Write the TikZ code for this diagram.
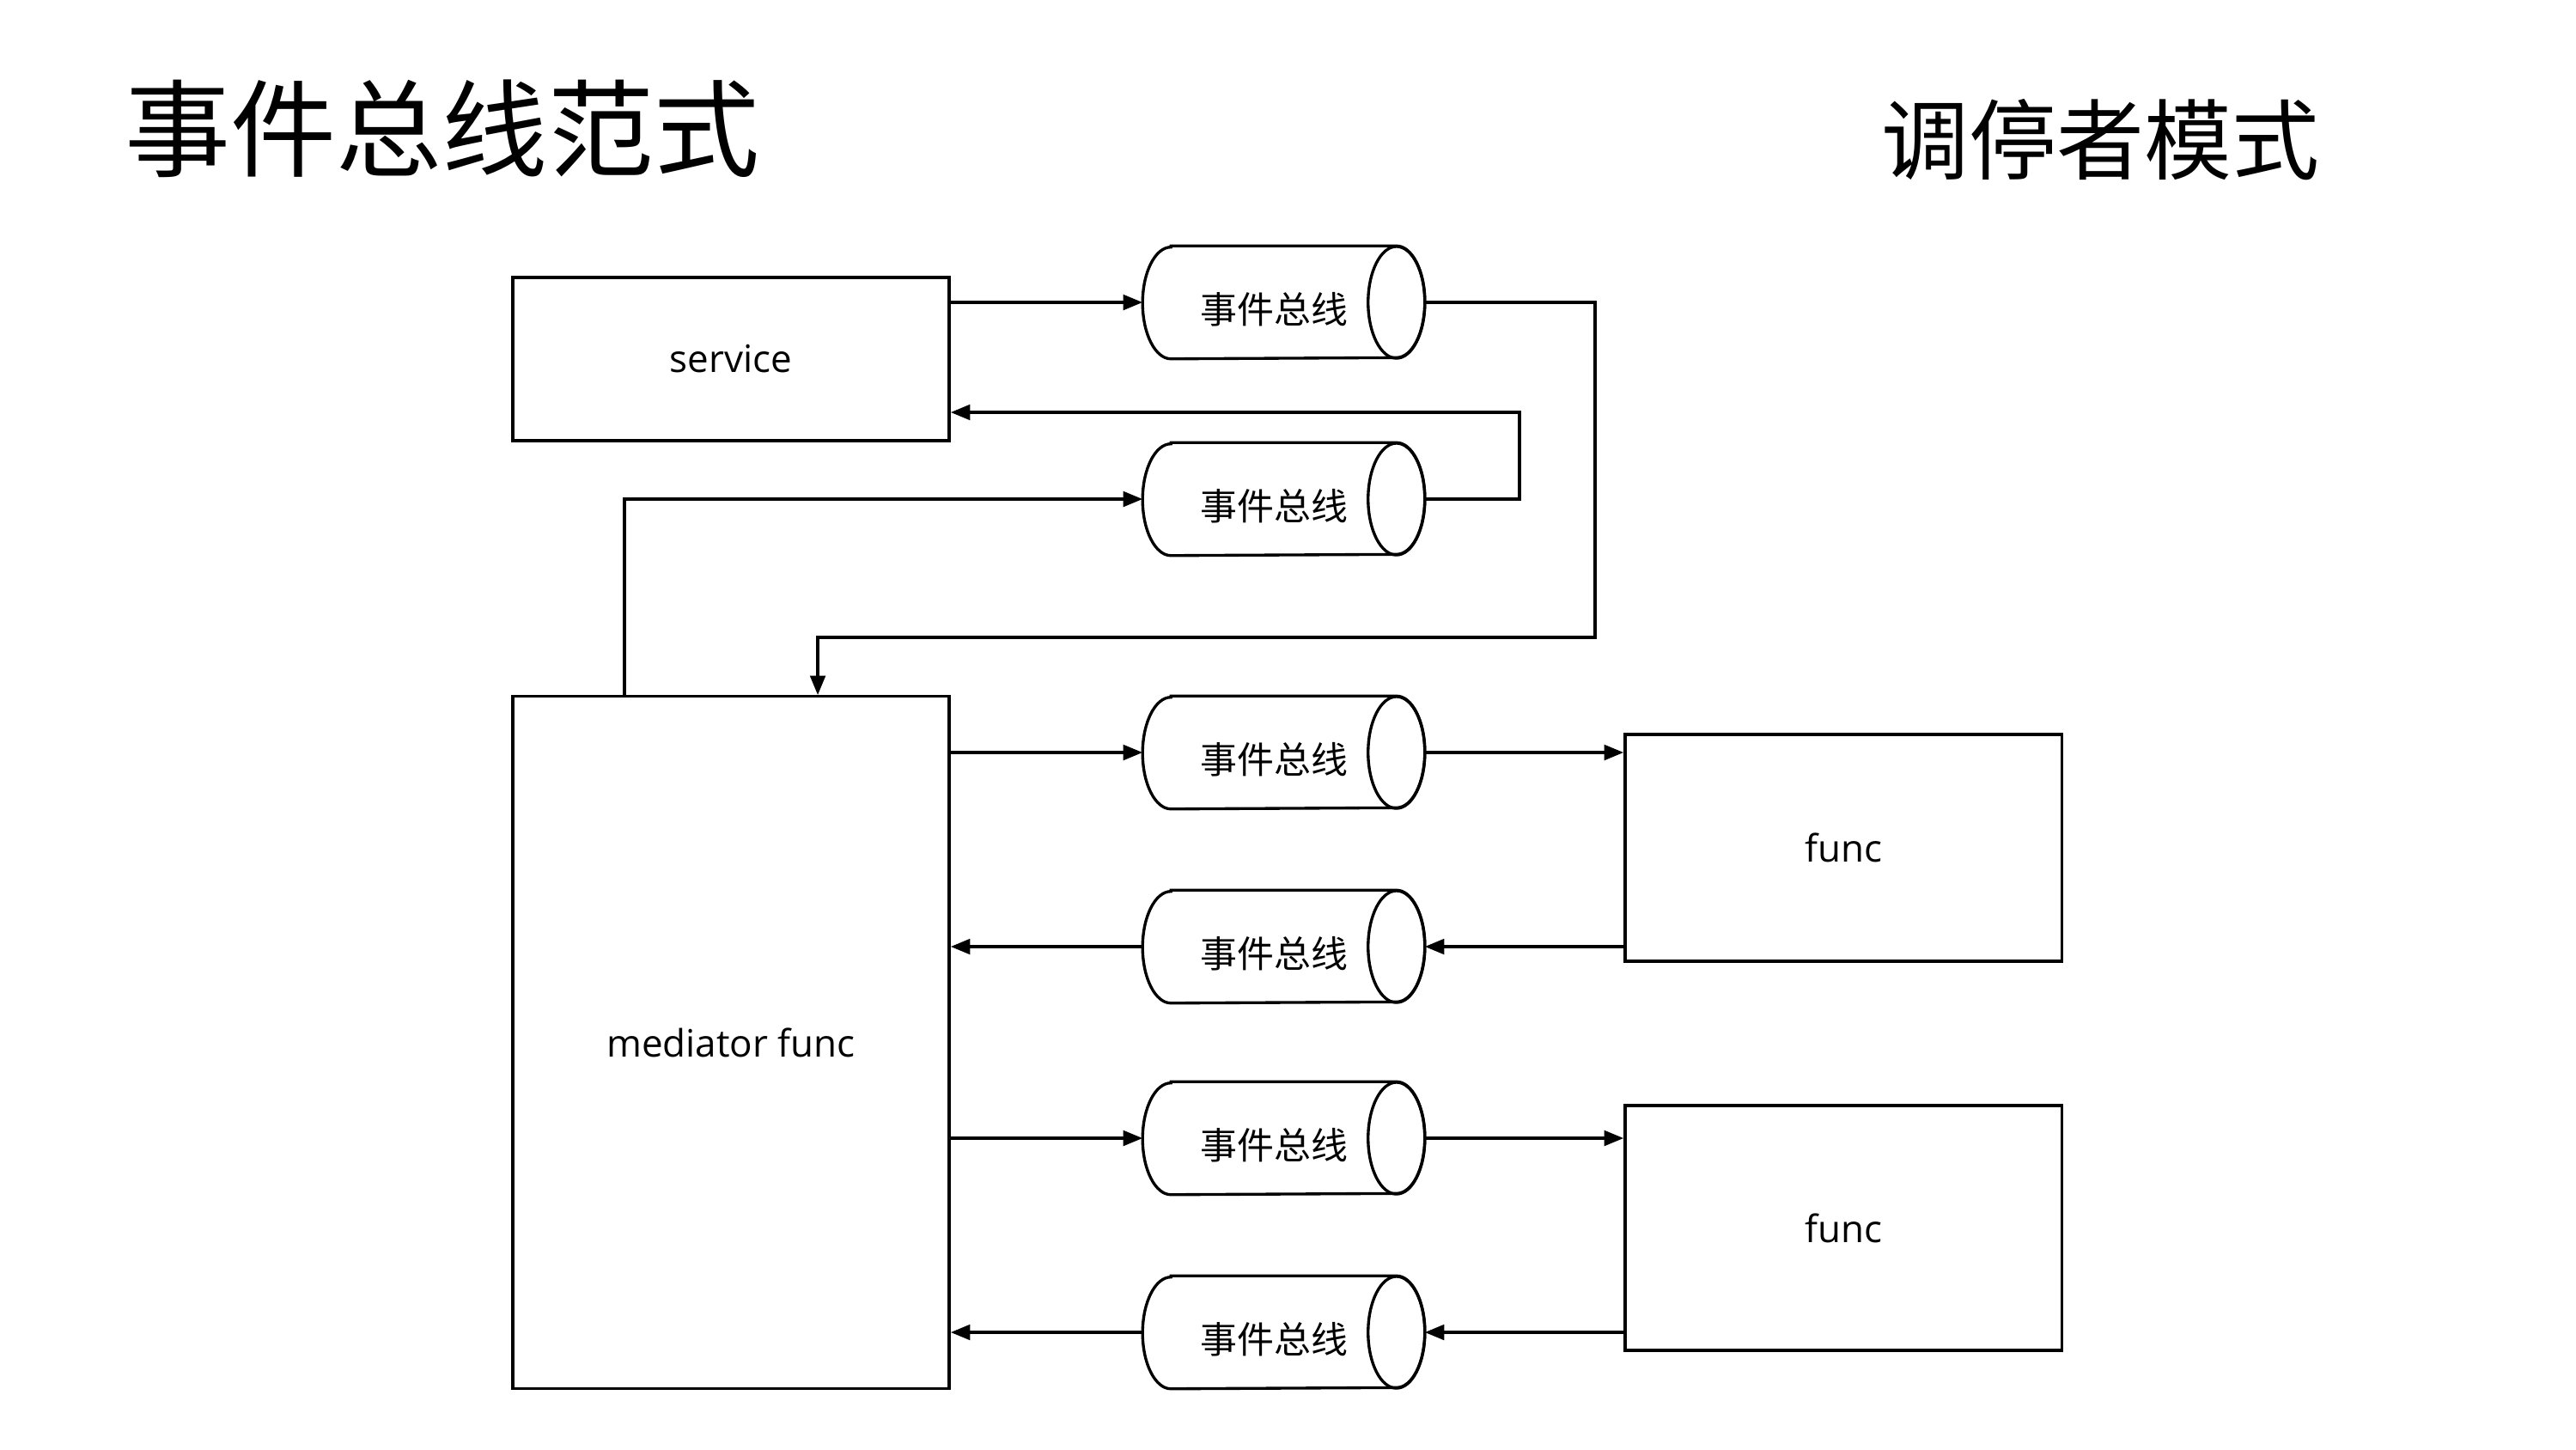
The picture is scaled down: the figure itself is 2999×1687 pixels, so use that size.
\documentclass[tikz,border=0pt]{standalone}
\usepackage{fontspec}
\setmainfont{Open Sans}
\newfontfamily\cjk{Noto Sans CJK SC}
\usetikzlibrary{arrows.meta}
\tikzset{
  box/.style={draw, line width=0.95pt, inner sep=0pt, font=\fontsize{12.5}{15}\selectfont},
  busnode/.style={inner sep=0pt, minimum width=3.27cm, minimum height=1.3cm, text height=0.52cm, text depth=0.03cm, font=\cjk\fontsize{12.2}{15}\selectfont},
  arr/.style={line width=0.95pt, -{Triangle[length=6.4pt,width=5pt]}},
  outline/.style={line width=0.95pt},
}
\newcommand\busat[3]{%
  \node[busnode] (#1) at (#2,#3) {事件总线\hspace*{0.22cm}};
  \draw[outline] ([xshift=0.33cm]#1.north west) -- ([xshift=-0.33cm]#1.north east)
     arc[start angle=90, end angle=-90, x radius=0.33cm, y radius=0.65cm]
     -- ([xshift=0.33cm]#1.south west)
     arc[start angle=270, end angle=90, x radius=0.33cm, y radius=0.65cm] -- cycle;
  \draw[outline] ([xshift=-0.33cm]#1.east) ellipse [x radius=0.33cm, y radius=0.65cm];
}
\begin{document}
\begin{tikzpicture}[x=0.01cm,y=-0.01cm]
\useasboundingbox (0,0) rectangle (2999,1687);
\node[anchor=west, font=\cjk\fontsize{35}{40}\selectfont, inner sep=0pt] (t1) at (145,150) {事件总线范式};
\node[anchor=west, font=\cjk\fontsize{29}{34}\selectfont, inner sep=0pt] (t2) at (2190,163) {调停者模式};

\node[box, minimum width=5.08cm, minimum height=1.9cm] (service) at (851,418) {service};
\node[box, minimum width=5.08cm, minimum height=8.05cm] (mediator) at (851,1213.5) {mediator func};
\node[box, minimum width=5.08cm, minimum height=2.64cm] (func1) at (2146,987) {func};
\node[box, minimum width=5.08cm, minimum height=2.85cm] (func2) at (2146,1429.5) {func};

\busat{bus1}{1494.5}{352}
\busat{bus2}{1494.5}{581}
\busat{bus3}{1494.5}{876}
\busat{bus4}{1494.5}{1102}
\busat{bus5}{1494.5}{1325}
\busat{bus6}{1494.5}{1551}

\coordinate (k1) at (1857,742);
\coordinate (k2) at (1769,480);

\draw[arr] (service.east |- bus1) -- (bus1.west);
\draw[arr] (bus1.east) -| (k1) -| ([xshift=1.01cm]mediator.north);
\draw[arr] (bus2.east) -| (k2) -- (service.east |- k2);
\draw[arr] ([xshift=-1.24cm]mediator.north) |- (bus2.west);

\draw[arr] (mediator.east |- bus3) -- (bus3.west);
\draw[arr] (bus3.east) -- (func1.west |- bus3);
\draw[arr] (func1.west |- bus4) -- (bus4.east);
\draw[arr] (bus4.west) -- (mediator.east |- bus4);

\draw[arr] (mediator.east |- bus5) -- (bus5.west);
\draw[arr] (bus5.east) -- (func2.west |- bus5);
\draw[arr] (func2.west |- bus6) -- (bus6.east);
\draw[arr] (bus6.west) -- (mediator.east |- bus6);
\end{tikzpicture}
\end{document}
